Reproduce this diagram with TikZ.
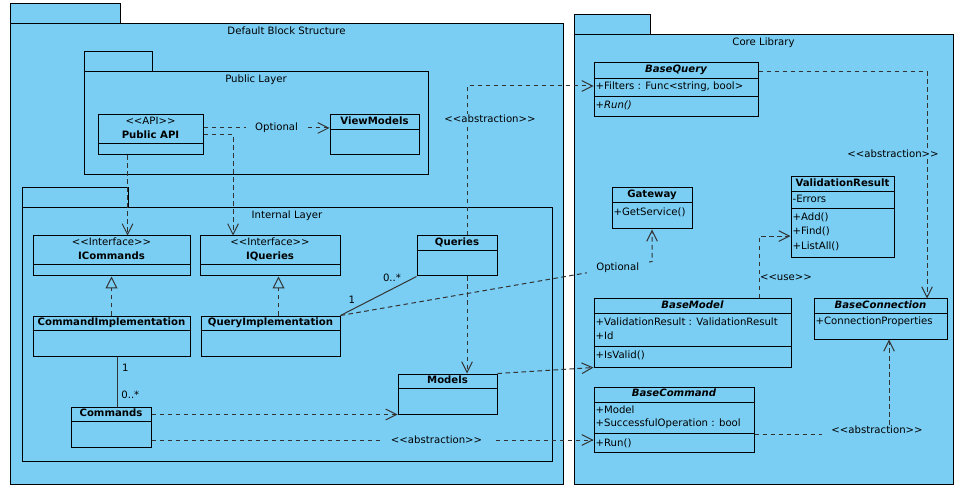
\documentclass[tikz,border=0pt]{standalone}
\usepackage{fontspec}
\setmainfont{DejaVu Sans}[Ligatures=TeXOff]
\usetikzlibrary{arrows.meta,fit}
\definecolor{pkgblue}{RGB}{122,206,244}
\definecolor{linegray}{RGB}{51,51,51}
\begin{document}
\fontsize{7.6pt}{9pt}\selectfont
\begin{tikzpicture}[x=0.75pt,y=-0.75pt]
\tikzstyle{pkg}=[draw,fill=pkgblue,inner sep=0pt,line width=0.75pt]
\tikzstyle{cls}=[draw,inner sep=0pt,line width=0.75pt]
\tikzstyle{ttl}=[below,inner sep=1.5pt,font=\bfseries]
\tikzstyle{absttl}=[below,inner sep=1.5pt,font=\bfseries\itshape]
\tikzstyle{attr}=[anchor=west,inner sep=1pt]
\tikzstyle{lbl}=[fill=pkgblue,inner xsep=7pt,inner ysep=1pt]
\tikzstyle{mult}=[inner sep=1pt]
\tikzstyle{dep}=[draw=linegray,line width=0.75pt,dash pattern=on 3.5pt off 2.5pt,-{Straight Barb[length=8pt,width=8pt]}]
\tikzstyle{real}=[draw=linegray,line width=0.75pt,dash pattern=on 3.5pt off 2.5pt,-{Triangle[open,length=9pt,width=9pt]}]
\tikzstyle{assoc}=[draw=linegray,line width=0.75pt]
\useasboundingbox (0,0) rectangle (966,491);
\node[pkg, fit={(10,4) (120,24)}] (dbstab) {};
\node[pkg, fit={(10,24) (563,484)}] (dbs) {};
\node[below, inner sep=2pt] (dbsname) at (dbs.north) {Default Block Structure};
\node[pkg, fit={(84,52) (152,72)}] (pubtab) {};
\node[pkg, fit={(84,72) (428,175)}] (publ) {};
\node[below, inner sep=2pt] (publname) at (publ.north) {Public Layer};
\node[pkg, fit={(22,188) (128,208)}] (inttab) {};
\node[pkg, fit={(22,208) (552,461)}] (intl) {};
\node[below, inner sep=2pt] (intlname) at (intl.north) {Internal Layer};
\node[pkg, fit={(574,15) (650,35)}] (coretab) {};
\node[pkg, fit={(574,35) (953,484)}] (core) {};
\node[below, inner sep=2pt] (corename) at (core.north) {Core Library};
\node[cls, fit={(98,115) (203,155)}] (pub) {};
\draw (98,143) -- (203,143);
\node[below, align=center, inner sep=1.5pt] (pubname) at (pub.north) {<<API>>\\[1.5pt]\textbf{Public API}};
\node[cls, fit={(330,115) (419,155)}] (vm) {};
\draw (330,129) -- (419,129);
\node[ttl] (vmname) at (vm.north) {ViewModels};
\node[cls, fit={(33,236) (190,276)}] (icmd) {};
\draw (33,264) -- (190,264);
\node[below, align=center, inner sep=1.5pt] (icmdname) at (icmd.north) {<<Interface>>\\[1.5pt]\textbf{ICommands}};
\node[cls, fit={(200,236) (340,276)}] (iqry) {};
\draw (200,264) -- (340,264);
\node[below, align=center, inner sep=1.5pt] (iqryname) at (iqry.north) {<<Interface>>\\[1.5pt]\textbf{IQueries}};
\node[cls, fit={(417,236) (497,276)}] (qrs) {};
\draw (417,250) -- (497,250);
\node[ttl] (qrsname) at (qrs.north) {Queries};
\node[cls, fit={(33,316) (190,356)}] (cimpl) {};
\draw (33,330) -- (190,330);
\node[ttl] (cimplname) at (cimpl.north) {CommandImplementation};
\node[cls, fit={(201,316) (340,356)}] (qimpl) {};
\draw (201,330) -- (340,330);
\node[ttl] (qimplname) at (qimpl.north) {QueryImplementation};
\node[cls, fit={(398,374) (497,414)}] (mdl) {};
\draw (398,388) -- (497,388);
\node[ttl] (mdlname) at (mdl.north) {Models};
\node[cls, fit={(71,407) (151,447)}] (cmds) {};
\draw (71,421) -- (151,421);
\node[ttl] (cmdsname) at (cmds.north) {Commands};
\node[cls, fit={(594,63) (758,117)}] (bq) {};
\draw (594,78) -- (758,78);
\draw (594,96) -- (758,96);
\node[absttl] (bqname) at (bq.north) {BaseQuery};
\node[attr] (bqa1) at (594,87) {+Filters : Func<string, bool>};
\node[attr] (bqo1) at (594,105) {\textit{+Run()}};
\node[cls, fit={(612,188) (692,229)}] (gw) {};
\draw (612,202) -- (692,202);
\node[ttl] (gwname) at (gw.north) {Gateway};
\node[attr] (gwo1) at (612,212) {+GetService()};
\node[cls, fit={(791,177) (894,258)}] (vr) {};
\draw (791,191) -- (894,191);
\draw (791,208) -- (894,208);
\node[ttl] (vrname) at (vr.north) {ValidationResult};
\node[attr] (vra1) at (791,199) {-Errors};
\node[attr] (vro1) at (791,217) {+Add()};
\node[attr] (vro2) at (791,231) {+Find()};
\node[attr] (vro3) at (791,246) {+ListAll()};
\node[cls, fit={(594,299) (791,367)}] (bm) {};
\draw (594,313) -- (791,313);
\draw (594,346) -- (791,346);
\node[absttl] (bmname) at (bm.north) {BaseModel};
\node[attr] (bma1) at (594,322) {+ValidationResult : ValidationResult};
\node[attr] (bma2) at (594,336) {+Id};
\node[attr] (bmo1) at (594,355) {+IsValid()};
\node[cls, fit={(814,299) (947,339)}] (bc) {};
\draw (814,313) -- (947,313);
\node[absttl] (bcname) at (bc.north) {BaseConnection};
\node[attr] (bca1) at (814,322) {+ConnectionProperties};
\node[cls, fit={(594,387) (754,452)}] (bcmd) {};
\draw (594,402) -- (754,402);
\draw (594,433) -- (754,433);
\node[absttl] (bcmdname) at (bcmd.north) {BaseCommand};
\node[attr] (bcmda1) at (594,410) {+Model};
\node[attr] (bcmda2) at (594,424) {+SuccessfulOperation : bool};
\node[attr] (bcmdo1) at (594,443) {+Run()};
\draw[dep] ([xshift=-17.25pt]pub.south) -- ([xshift=-17.25pt]pub.south |- icmd.north);
\draw[dep] (pub.east) -| ([xshift=-27.75pt]iqry.north);
\draw[dep] ([yshift=5.25pt]pub.east) -- node[lbl, pos=.58] (opt1) {Optional} ([yshift=5.25pt]pub.east -| vm.west);
\draw[real] (cimpl.north) -- (icmd.south);
\draw[real] ([xshift=6pt]qimpl.north) -- ([xshift=6pt]qimpl.north |- iqry.south);
\draw[assoc] ([xshift=4.5pt]cimpl.south) -- node[mult, pos=.23, right=2pt] (m1) {1} node[mult, pos=.77, right=1.5pt] (m2) {0..*} ([xshift=4.5pt]cimpl.south |- cmds.north);
\draw[assoc] (qimpl.north east) -- node[mult, pos=.15, above=3pt] (m3) {1} node[mult, pos=.82, above left=0pt] (m4) {0..*} (qrs.south west);
\draw[dep] (cmds.east |- mdl.south west) -- (mdl.south west);
\draw[dep] ([yshift=-9.75pt]cmds.east) -- node[lbl, pos=.645] (abs1) {<<abstraction>>} ([yshift=-9.75pt]cmds.east -| bcmd.west);
\draw[dep] ([xshift=7.5pt]qrs.south) -- ([xshift=7.5pt]qrs.south |- mdl.north);
\draw[dep] ([xshift=7.5pt]qrs.north) |- node[lbl, pos=.39, xshift=17.25pt] (abs2) {<<abstraction>>} ([yshift=3pt]bq.west);
\draw[dep] (mdl.north east) -- (bm.south west);
\draw[dep] (qimpl.north east) -- node[lbl, pos=.89] (opt2) {Optional} ([yshift=-24pt]gw.south) -- (gw.south);
\draw[dep] ([xshift=-24pt]bm.north east) |- node[pos=.17, right=0pt, inner sep=0pt] (use1) {<<use>>} ([yshift=-13.9pt]vr.west);
\draw[dep] ([yshift=13.5pt]bq.east) -| node[lbl, pos=.68, xshift=-25.5pt] (abs3) {<<abstraction>>} ([xshift=34.9pt]bc.north);
\draw[dep] ([yshift=-10.9pt]bcmd.east) -| node[lbl, pos=.5, xshift=-9pt, yshift=3pt] (abs4) {<<abstraction>>} ([xshift=6.4pt]bc.south);
\end{tikzpicture}
\end{document}
